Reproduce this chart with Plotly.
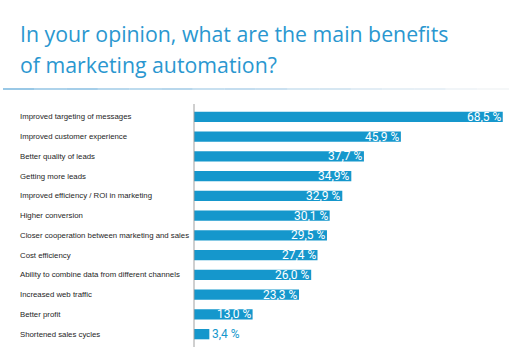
import plotly.graph_objects as go
import numpy as np

categories = [
    "Improved targeting of messages",
    "Improved customer experience",
    "Better quality of leads",
    "Getting more leads",
    "Improved efficiency / ROI in marketing",
    "Higher conversion",
    "Closer cooperation between marketing and sales",
    "Cost efficiency",
    "Ability to combine data from different channels",
    "Increased web traffic",
    "Better profit",
    "Shortened sales cycles",
]
values = [68.5, 45.9, 37.7, 34.9, 32.9, 30.1, 29.5, 27.4, 26.0, 23.3, 13.0, 3.4]
value_labels = ["68,5 %", "45,9 %", "37,7 %", "34,9%", "32,9 %", "30,1 %",
                "29,5 %", "27,4 %", "26,0 %", "23,3 %", "13,0 %", "3,4 %"]
title_lines = ["In your opinion, what are the main benefits", "of marketing automation?"]

W, H = 512, 351
L, R, T, B = 194, 0, 104, 4
pw, ph = W - L - R, H - T - B

def px_x(px):
    return (px - L) / pw

def px_y(py):
    return (H - B - py) / ph

BLUE = "#1597cc"
fig = go.Figure()
fig.add_trace(go.Bar(
    x=values, y=list(range(len(categories))), orientation="h",
    marker=dict(color=BLUE, line=dict(width=0)), width=0.52,
    hoverinfo="skip",
))

ann = []
for i, (c, v, t) in enumerate(zip(categories, values, value_labels)):
    ann.append(dict(x=px_x(18), xref="paper", y=i, yref="y", text=c, showarrow=False,
                    xanchor="left", yanchor="middle",
                    font=dict(family="Liberation Sans, Arial", size=7.8, color="#1e1e1e")))
    inside = v > 8
    ann.append(dict(x=v, xref="x", y=i, yref="y", text=t, showarrow=False,
                    xanchor="right" if inside else "left", yanchor="middle",
                    xshift=1,
                    font=dict(family="Roboto, Liberation Sans", size=12,
                              color="white" if inside else BLUE)))

for k, line in enumerate(title_lines):
    ann.append(dict(x=px_x(18), xref="paper", y=px_y(33 + 32 * k), yref="paper",
                    text=line, showarrow=False, xanchor="left", yanchor="middle",
                    font=dict(family="Open Sans, Roboto", size=21.3, color="#2a97d0")))

shapes = []
n = 16
c0 = np.array([0x55, 0xa3, 0xd6])
c1 = np.array([0xee, 0xf1, 0xf4])
for s in range(n):
    f = s / (n - 1)
    col = (c0 * (1 - f) + c1 * f).astype(int)
    x0 = 3 + (506 * s) / n
    x1 = 3 + (506 * (s + 1)) / n
    shapes.append(dict(type="line", xref="paper", yref="paper",
                       x0=px_x(x0), x1=px_x(x1), y0=px_y(89), y1=px_y(89),
                       line=dict(color="rgb(%d,%d,%d)" % tuple(col), width=1.2)))
shapes.append(dict(type="line", xref="paper", yref="paper",
                   x0=0, x1=0, y0=0, y1=1, line=dict(color="#a0a0a0", width=1)))

fig.update_layout(
    width=W, height=H, margin=dict(l=L, r=R, t=T, b=B),
    paper_bgcolor="white", plot_bgcolor="rgba(0,0,0,0)",
    showlegend=False, bargap=0.48,
    xaxis=dict(range=[0, 70.55], visible=False, fixedrange=True),
    yaxis=dict(range=[11.65, -0.65], visible=False, fixedrange=True),
    annotations=ann, shapes=shapes,
)
fig.write_html("out.html")
